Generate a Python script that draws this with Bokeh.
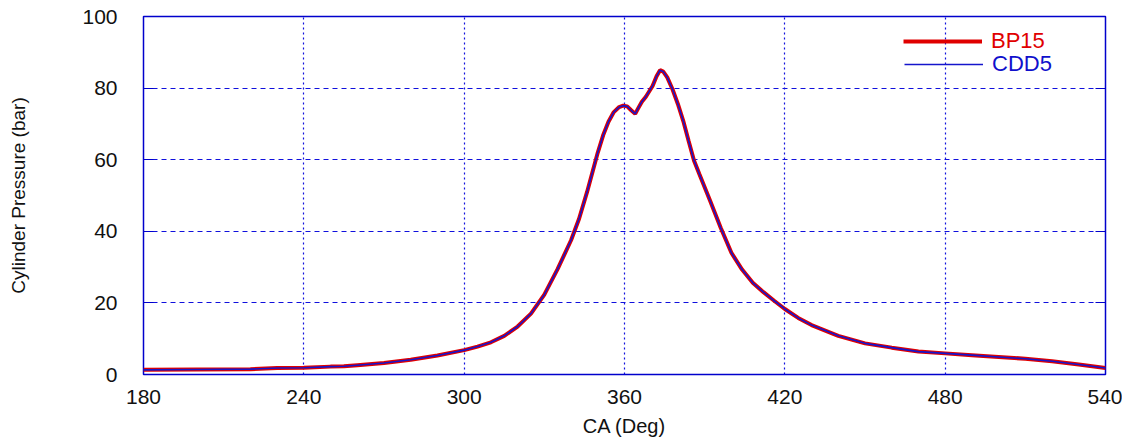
from bokeh.plotting import figure
from bokeh.models import Legend, LegendItem, LinearAxis, FixedTicker, CustomJSTickFormatter, Range1d
from bokeh.embed import file_html
from bokeh.resources import INLINE

# ---- data ----
ca = [180, 200, 220, 230, 240, 250, 255, 260, 270, 280, 290, 300, 305, 310, 315,
      320, 325, 330, 335, 340, 343, 346, 348, 350, 352, 354, 356, 358, 359.5, 361, 362.5,
      364, 365, 366.5, 368, 370.5, 372, 373.3, 374.5, 376, 378, 380, 382, 384, 386,
      388, 392, 396, 400, 404, 408, 412, 416, 420, 425, 430, 440, 450, 460, 470, 480,
      490, 500, 510, 520, 530, 540]
bp15 = [1.3, 1.4, 1.5, 1.8, 1.9, 2.2, 2.3, 2.6, 3.2, 4.1, 5.3, 6.8, 7.8, 9.0, 10.8,
        13.4, 17.0, 22.3, 29.5, 37.5, 43.5, 51.0, 56.5, 62.0, 66.8, 70.6, 73.3, 74.7, 75.1, 74.9, 73.8,
        72.8, 74.2, 76.2, 77.6, 80.6, 83.3, 85.0, 84.6, 83.0, 79.6, 75.5, 70.8, 65.2, 59.8,
        56.0, 48.6, 41.0, 34.0, 29.3, 25.6, 23.0, 20.6, 18.3, 15.8, 13.8, 10.8, 8.7, 7.5, 6.4, 5.9,
        5.4, 4.9, 4.4, 3.7, 2.8, 1.8]
cdd5 = [1.3, 1.4, 1.5, 1.8, 1.9, 2.2, 2.3, 2.6, 3.2, 4.1, 5.3, 6.8, 7.8, 9.0, 10.8,
        13.4, 17.0, 22.3, 29.5, 37.5, 43.5, 51.0, 56.5, 62.0, 66.8, 70.6, 73.3, 74.7, 75.1, 74.9, 73.8,
        72.8, 74.2, 76.2, 77.6, 80.6, 83.3, 85.0, 84.6, 83.0, 79.6, 75.5, 70.8, 65.2, 59.8,
        56.0, 48.6, 41.0, 34.0, 29.3, 25.6, 23.0, 20.6, 18.3, 15.8, 13.8, 10.8, 8.7, 7.5, 6.4, 5.9,
        5.4, 4.9, 4.4, 3.7, 2.8, 1.8]
x_ticks = [180, 240, 300, 360, 420, 480, 540]
y_ticks = [0, 20, 40, 60, 80, 100]
series_names = ["BP15", "CDD5"]

RED = "#e00000"
BLUE = "#1515cc"
FRAME = "#0000cc"
FONT = "Liberation Sans"

p = figure(width=1122, height=440, output_backend="svg", toolbar_location=None,
           x_range=Range1d(180, 540), y_range=Range1d(0, 100),
           min_border_left=143, min_border_right=17, min_border_top=16, min_border_bottom=66)
p.outline_line_color = FRAME
p.outline_line_width = 1.5

r1 = p.line(ca, bp15, line_color=RED, line_width=4.0)
r2 = p.line(ca, cdd5, line_color=BLUE, line_width=1.6)

# axes
xa = p.xaxis[0]
xa.ticker = FixedTicker(ticks=x_ticks)
xa.axis_line_color = None
xa.major_tick_line_color = None
xa.minor_tick_line_color = None
xa.major_label_text_font = FONT
xa.major_label_text_font_size = "21px"
xa.major_label_text_color = "#111111"
xa.major_label_standoff = 9
xa.axis_label = "CA (Deg)"
xa.axis_label_text_font = FONT
xa.axis_label_text_font_style = "normal"
xa.axis_label_text_font_size = "20px"
xa.axis_label_text_color = "#111111"
xa.axis_label_standoff = 8

ya = p.yaxis[0]
ya.ticker = FixedTicker(ticks=y_ticks)
ya.axis_line_color = None
ya.major_tick_line_color = FRAME
ya.major_tick_in = 10
ya.major_tick_out = 0
ya.minor_tick_line_color = None
ya.major_label_text_font = FONT
ya.major_label_text_font_size = "21px"
ya.major_label_text_color = "#111111"
ya.major_label_standoff = 26
ya.axis_label = "Cylinder Pressure (bar)"
ya.axis_label_text_font = FONT
ya.axis_label_text_font_style = "normal"
ya.axis_label_text_font_size = "19px"
ya.axis_label_text_color = "#111111"
ya.axis_label_standoff = 50

ra = LinearAxis(ticker=FixedTicker(ticks=y_ticks),
                formatter=CustomJSTickFormatter(code="return ''"),
                axis_line_color=None, major_tick_line_color=FRAME,
                major_tick_in=10, major_tick_out=0, minor_tick_line_color=None,
                major_label_standoff=0)
p.add_layout(ra, "right")

# grid
p.xgrid.ticker = FixedTicker(ticks=x_ticks)
p.ygrid.ticker = FixedTicker(ticks=y_ticks)
p.xgrid.grid_line_color = "#1010dd"
p.xgrid.grid_line_dash = "2 3"
p.xgrid.grid_line_width = 1.2
p.ygrid.grid_line_color = "#1010dd"
p.ygrid.grid_line_dash = "5 4"
p.ygrid.grid_line_width = 1.2

# legends (one per entry so each label keeps its own colour)
for name, rend, col, loc in [(series_names[0], r1, RED, (760, 320)),
                             (series_names[1], r2, "#1010cc", (761, 297))]:
    lg = Legend(items=[LegendItem(label=name, renderers=[rend])], location=loc,
                padding=0, margin=0, spacing=0, border_line_color=None,
                background_fill_alpha=0, glyph_width=79, glyph_height=22,
                label_height=22, label_standoff=9,
                label_text_font=FONT, label_text_font_size="22px",
                label_text_color=col)
    p.add_layout(lg, "center")

open("out.html", "w").write(file_html(p, INLINE))
